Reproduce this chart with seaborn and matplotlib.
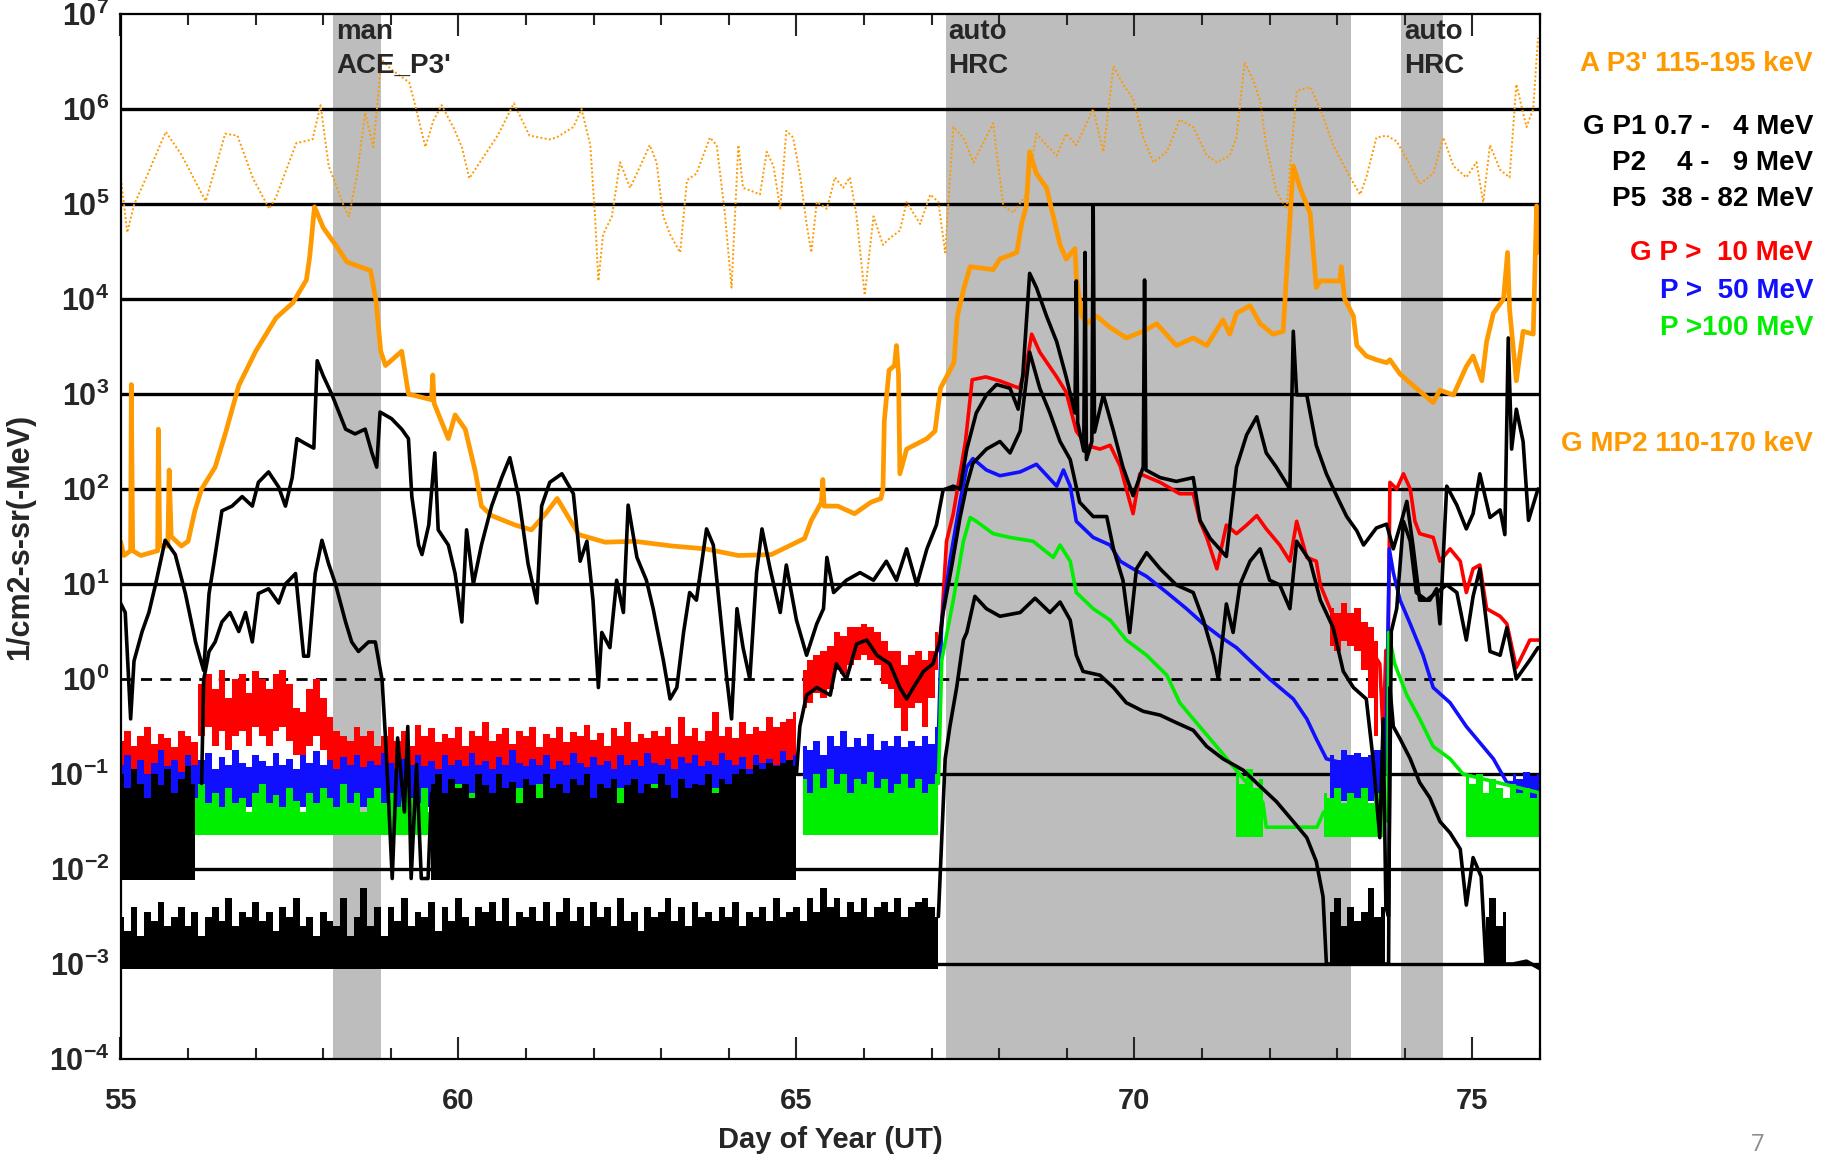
import numpy as np
import matplotlib
matplotlib.use("Agg")
import matplotlib.pyplot as plt
import matplotlib.transforms as mtransforms
from matplotlib import font_manager as fm
from matplotlib.ticker import FixedLocator, FuncFormatter, MultipleLocator
import seaborn as sns

# ---------------- data (values are log10 of flux) ----------------
# shaded intervals (day of year) and their labels
shade_start = [58.15, 67.21, 73.95]
shade_end = [58.85, 73.21, 74.57]
shade_label = ["man\nACE_P3'", "auto\nHRC", "auto\nHRC"]

# ACE P3' 115-195 keV (dotted orange)
ace = [(55.0,5.31),(55.1,4.7),(55.2,4.99),(55.4,5.31),(55.67,5.76),(55.9,5.52),(56.26,5.03),(56.55,5.74),
       (56.73,5.72),(56.96,5.27),(57.2,4.95),(57.3,5.07),(57.6,5.64),(57.84,5.68),(57.96,6.04),(58.08,5.4),
       (58.32,4.95),(58.38,4.87),(58.5,5.31),(58.62,5.96),(58.74,5.6),(58.86,6.52),(59.0,6.42),(59.27,6.28),
       (59.36,6.04),(59.51,5.6),(59.63,5.88),(59.75,6.04),(59.93,5.8),(60.05,5.6),(60.16,5.27),(60.28,5.4),
       (60.58,5.72),(60.82,6.06),(61.05,5.72),(61.35,5.68),(61.45,5.7),(61.7,5.81),(61.82,6.0),(61.95,5.62),
       (62.02,4.87),(62.07,4.19),(62.14,4.68),(62.27,4.87),(62.39,5.44),(62.54,5.17),(62.69,5.4),(62.83,5.62),
       (62.93,5.44),(63.03,4.87),(63.13,4.68),(63.28,4.49),(63.38,5.25),(63.52,5.32),(63.72,5.7),(63.82,5.62),
       (63.94,4.91),(64.04,4.12),(64.14,5.62),(64.21,5.17),(64.36,5.13),(64.46,5.1),(64.56,5.55),(64.66,5.4),
       (64.76,4.95),(64.85,5.77),(64.95,5.7),(65.05,5.32),(65.15,4.79),(65.22,4.49),(65.3,5.02),(65.45,4.95),
       (65.57,5.28),(65.69,5.17),(65.79,5.28),(65.89,4.87),(66.01,4.04),(66.14,4.87),(66.28,4.57),(66.38,4.64),
       (66.53,4.72),(66.63,5.02),(66.83,4.79),(66.98,5.1),(67.1,5.02),(67.2,4.49),(67.32,5.81),(67.47,5.7),
       (67.62,5.44),(67.91,5.85),(68.06,4.98),(68.21,4.91),(68.4,5.1),(68.55,5.74),(68.7,5.62),(68.85,5.51),
       (68.99,5.74),(69.14,5.62),(69.39,6.0),(69.54,5.55),(69.69,6.45),(69.83,6.26),(69.98,6.11),(70.13,5.7),
       (70.28,5.44),(70.48,5.55),(70.67,5.89),(70.87,5.81),(71.07,5.51),(71.22,5.44),(71.41,5.51),(71.51,5.7),
       (71.63,6.49),(71.76,6.3),(71.86,6.08),(71.95,5.62),(72.1,5.13),(72.25,4.95),(72.4,6.19),(72.6,6.23),
       (72.75,6.0),(72.94,5.62),(73.19,5.28),(73.34,5.1),(73.43,5.28),(73.58,5.7),(73.73,5.72),(73.88,5.66),
       (74.03,5.47),(74.22,5.21),(74.42,5.32),(74.57,5.7),(74.72,5.4),(74.91,5.28),(75.06,5.44),(75.16,5.02),
       (75.26,5.62),(75.41,5.36),(75.55,5.28),(75.65,6.26),(75.8,5.81),(75.9,6.0),(75.97,6.75)]

# GOES MP2 110-170 keV (solid orange)
mp2 = [(55.0,1.45),(55.05,1.3),(55.15,1.35),(55.16,3.1),(55.18,1.35),(55.3,1.3),(55.4,1.32),(55.55,1.35),
       (55.56,2.63),(55.58,1.4),(55.7,1.4),(55.72,2.2),(55.75,1.5),(55.9,1.4),(56.0,1.45),(56.1,1.77),
       (56.2,2.0),(56.4,2.23),(56.55,2.58),(56.75,3.09),(57.0,3.45),(57.3,3.8),(57.55,3.96),(57.75,4.2),
       (57.8,4.45),(57.87,4.97),(58.0,4.75),(58.2,4.55),(58.35,4.39),(58.5,4.35),(58.7,4.3),(58.78,3.98),
       (58.85,3.45),(58.92,3.3),(59.16,3.45),(59.26,3.0),(59.6,2.94),(59.62,3.2),(59.64,2.9),(59.85,2.53),
       (59.95,2.78),(60.1,2.63),(60.25,2.18),(60.34,1.82),(60.49,1.72),(60.84,1.62),(61.08,1.57),(61.3,1.75),
       (61.46,1.9),(61.78,1.52),(62.17,1.44),(62.6,1.45),(63.16,1.4),(63.65,1.37),(64.14,1.3),(64.63,1.31),
       (65.12,1.48),(65.22,1.67),(65.37,1.86),(65.39,2.1),(65.41,1.82),(65.61,1.82),(65.86,1.74),(66.1,1.86),
       (66.25,1.9),(66.28,2.0),(66.3,2.72),(66.37,3.25),(66.45,3.3),(66.48,3.51),(66.51,3.2),(66.53,2.16),
       (66.63,2.42),(66.93,2.53),(67.05,2.61),(67.13,3.06),(67.33,3.33),(67.38,3.82),(67.48,4.12),(67.57,4.34),
       (67.91,4.31),(68.01,4.42),(68.26,4.49),(68.33,4.79),(68.4,4.98),(68.45,5.55),(68.55,5.32),(68.7,5.17),
       (68.8,4.87),(68.9,4.57),(68.99,4.42),(69.12,4.53),(69.14,4.23),(69.22,3.82),(69.29,3.74),(69.44,3.82),
       (69.64,3.7),(69.88,3.59),(70.13,3.66),(70.33,3.74),(70.62,3.51),(70.87,3.59),(71.07,3.51),(71.31,3.78),
       (71.41,3.63),(71.51,3.85),(71.71,3.93),(71.86,3.74),(72.05,3.63),(72.2,3.66),(72.27,4.49),(72.35,5.4),
       (72.45,5.17),(72.6,4.9),(72.69,4.12),(72.75,4.19),(73.04,4.19),(73.06,4.34),(73.11,4.0),(73.24,3.82),
       (73.29,3.51),(73.43,3.4),(73.58,3.36),(73.73,3.33),(73.78,3.36),(73.93,3.21),(74.17,3.06),(74.42,2.91),
       (74.52,3.04),(74.72,2.99),(74.91,3.29),(75.01,3.4),(75.14,3.14),(75.21,3.55),(75.31,3.85),(75.46,4.0),
       (75.52,4.49),(75.55,3.89),(75.65,3.14),(75.75,3.66),(75.9,3.63),(75.95,4.98),(75.97,4.49),(76.0,4.5)]

# GOES P1 0.7-4 MeV (upper black)
p1 = [(55.0,0.8),(55.07,0.7),(55.15,-0.42),(55.2,0.19),(55.32,0.5),(55.42,0.7),(55.52,1.0),(55.66,1.46),
      (55.81,1.31),(55.96,0.9),(56.11,0.39),(56.23,0.09),(56.31,0.9),(56.38,1.21),(56.5,1.77),(56.65,1.82),
      (56.8,1.92),(56.95,1.82),(57.04,2.07),(57.19,2.18),(57.34,2.02),(57.44,1.82),(57.54,2.12),(57.61,2.53),
      (57.73,2.48),(57.86,2.43),(57.91,3.35),(58.0,3.19),(58.13,2.99),(58.33,2.63),(58.47,2.58),(58.62,2.63),
      (58.72,2.38),(58.79,2.23),(58.84,2.81),(59.01,2.74),(59.16,2.63),(59.26,2.53),(59.31,1.92),(59.41,1.41),
      (59.46,1.31),(59.56,1.62),(59.65,2.38),(59.7,1.57),(59.85,1.41),(59.95,1.11),(60.05,0.6),(60.12,1.57),
      (60.22,1.0),(60.34,1.41),(60.49,1.82),(60.64,2.12),(60.76,2.33),(60.89,1.92),(61.03,1.21),(61.16,0.8),
      (61.23,1.82),(61.35,2.07),(61.53,2.16),(61.7,1.95),(61.8,1.24),(61.9,1.45),(61.99,0.83),(62.07,-0.09),
      (62.12,0.49),(62.24,0.33),(62.34,1.04),(62.44,0.7),(62.51,1.83),(62.64,1.28),(62.78,1.04),(62.88,0.74),
      (63.03,0.2),(63.13,-0.21),(63.23,-0.09),(63.33,0.49),(63.42,0.91),(63.52,0.83),(63.67,1.58),(63.77,1.41),
      (63.87,0.7),(63.97,0.0),(64.04,-0.42),(64.12,0.74),(64.21,0.33),(64.31,0.0),(64.41,1.12),(64.49,1.58),
      (64.61,1.16),(64.76,0.7),(64.85,1.2),(65.0,0.62),(65.15,0.25),(65.3,0.58),(65.4,0.74),(65.45,1.28),
      (65.55,0.91),(65.74,1.04),(65.94,1.12),(66.14,1.04),(66.33,1.24),(66.48,1.04),(66.63,1.37),(66.78,0.99),
      (66.93,1.37),(67.07,1.62),(67.17,1.99),(67.32,2.03),(67.42,2.0),(67.52,2.42),(67.66,2.8),(67.81,2.99),
      (67.96,3.1),(68.16,3.06),(68.28,2.84),(68.35,3.21),(68.45,4.27),(68.55,4.12),(68.7,3.82),(68.85,3.55),
      (68.99,3.18),(69.12,2.8),(69.14,4.19),(69.16,2.7),(69.25,2.4),(69.27,4.49),(69.29,2.31),(69.37,2.5),
      (69.39,4.98),(69.41,2.6),(69.54,2.99),(69.69,2.61),(69.83,2.23),(69.98,1.93),(70.13,2.23),(70.15,4.2),
      (70.17,2.2),(70.38,2.12),(70.62,2.08),(70.87,2.12),(70.97,1.67),(71.12,1.48),(71.36,1.29),(71.51,2.23),
      (71.66,2.57),(71.81,2.76),(71.95,2.38),(72.1,2.23),(72.3,2.0),(72.35,3.66),(72.4,2.99),(72.55,2.99),
      (72.69,2.46),(72.84,2.16),(72.99,1.93),(73.14,1.71),(73.29,1.56),(73.39,1.41),(73.58,1.59),(73.73,1.63),
      (73.83,1.37),(73.95,1.66),(74.03,1.87),(74.12,1.41),(74.22,0.83),(74.37,0.83),(74.47,0.95),(74.52,0.58),
      (74.62,2.03),(74.77,1.83),(74.91,1.58),(75.01,1.74),(75.11,2.16),(75.26,1.7),(75.41,1.78),(75.48,1.52),
      (75.53,3.59),(75.58,2.42),(75.65,2.84),(75.75,2.5),(75.83,1.67),(75.97,2.0)]

# GOES P2 4-9 MeV (middle black): two line segments + quiet-time noise blocks
p2_a = [(56.2,-1.1),(56.23,-0.01),(56.31,0.29),(56.4,0.39),(56.5,0.6),(56.62,0.7),(56.75,0.5),(56.85,0.7),
        (56.95,0.39),(57.04,0.9),(57.19,0.95),(57.34,0.8),(57.44,1.0),(57.59,1.11),(57.71,0.24),(57.78,0.24),
        (57.88,1.11),(57.98,1.46),(58.08,1.21),(58.18,1.0),(58.33,0.6),(58.42,0.39),(58.52,0.29),(58.67,0.39),
        (58.77,0.39),(58.87,-0.01),(58.92,-0.62),(58.97,-1.34),(59.02,-2.1),(59.1,-0.62),(59.2,-1.4),
        (59.25,-0.5),(59.3,-2.1),(59.38,-0.9),(59.45,-2.1),(59.55,-2.1),(59.6,-1.2)]
p2_b = [(65.0,-1.0),(65.05,-0.5),(65.15,-0.17),(65.3,-0.09),(65.5,-0.17),(65.59,0.16),(65.74,0.0),(65.89,0.37),
        (66.04,0.41),(66.19,0.25),(66.38,0.16),(66.53,-0.09),(66.63,-0.21),(66.73,-0.09),(66.88,0.08),
        (67.02,0.16),(67.12,0.4),(67.17,0.7),(67.3,1.2),(67.42,1.7),(67.52,2.04),(67.61,2.27),(67.81,2.42),
        (68.01,2.5),(68.16,2.38),(68.31,2.61),(68.45,3.44),(68.6,3.06),(68.75,2.8),(68.9,2.5),(69.05,2.31),
        (69.19,1.86),(69.39,1.71),(69.59,1.71),(69.69,1.37),(69.83,1.04),(69.93,0.49),(70.03,1.16),(70.18,1.33),
        (70.38,1.16),(70.62,0.99),(70.87,0.91),(71.02,0.62),(71.17,0.25),(71.24,0.0),(71.36,0.79),(71.46,0.49),
        (71.56,0.99),(71.71,1.24),(71.86,1.37),(72.0,1.04),(72.15,0.99),(72.3,0.74),(72.4,1.45),(72.6,1.24),
        (72.75,0.83),(72.94,0.54),(73.09,0.08),(73.24,-0.09),(73.43,-0.21),(73.53,-0.84),(73.63,-1.67),
        (73.68,-0.42),(73.72,-2.4),(73.76,-2.5),(73.8,0.5),(73.88,0.74),(73.98,1.66),(74.08,1.45),(74.17,0.91),
        (74.32,0.83),(74.47,0.91),(74.62,0.99),(74.77,0.91),(74.91,0.41),(75.01,0.87),(75.11,1.16),(75.26,0.29),
        (75.41,0.25),(75.51,0.54),(75.65,0.0),(75.85,0.2),(75.97,0.33)]

# GOES P5 38-82 MeV (lowest black) event part
p5 = [(67.1,-2.5),(67.15,-1.67),(67.2,-0.84),(67.27,-0.5),(67.37,-0.09),(67.47,0.41),(67.52,0.49),(67.64,0.87),
      (67.81,0.74),(68.01,0.66),(68.31,0.7),(68.53,0.85),(68.75,0.7),(68.9,0.81),(69.05,0.62),(69.14,0.25),
      (69.24,0.08),(69.49,0.04),(69.69,-0.09),(69.88,-0.25),(70.13,-0.34),(70.38,-0.38),(70.62,-0.46),
      (70.87,-0.54),(71.07,-0.71),(71.31,-0.84),(71.61,-0.96),(71.86,-1.13),(72.1,-1.29),(72.35,-1.5),
      (72.55,-1.67),(72.69,-1.92),(72.79,-2.29),(72.84,-3.0),(73.76,-3.0),(73.78,-0.09),(73.83,-0.5),
      (73.93,-0.63),(74.08,-0.84),(74.22,-1.09),(74.37,-1.25),(74.52,-1.5),(74.67,-1.62),(74.82,-1.79),
      (74.91,-2.38),(75.01,-1.88),(75.13,-2.08),(75.2,-3.0),(75.6,-3.0),(75.8,-2.97),(76.0,-3.05)]

# GOES P > 10 MeV (red), P > 50 MeV (blue), P > 100 MeV (green) event parts
red = [(67.1,0.3),(67.15,0.62),(67.22,1.45),(67.32,1.74),(67.42,2.16),(67.5,2.5),(67.6,3.15),(67.8,3.18),
       (68.0,3.14),(68.15,3.1),(68.3,3.06),(68.4,3.3),(68.48,3.63),(68.6,3.44),(68.85,3.18),(68.99,3.02),
       (69.14,2.61),(69.29,2.46),(69.49,2.42),(69.64,2.46),(69.79,2.24),(69.88,2.0),(69.98,1.74),(70.08,2.16),
       (70.38,2.07),(70.67,1.95),(70.87,1.95),(70.97,1.66),(71.07,1.49),(71.22,1.16),(71.36,1.62),(71.51,1.53),
       (71.66,1.62),(71.81,1.72),(71.95,1.58),(72.15,1.41),(72.3,1.24),(72.4,1.66),(72.55,1.28),(72.69,1.24),
       (72.75,0.99),(72.94,0.66),(73.09,0.49),(73.2,0.55),(73.34,0.58),(73.48,0.33),(73.63,0.16),(73.68,-0.59),
       (73.72,0.3),(73.75,0.0),(73.78,2.07),(73.88,2.0),(73.98,2.16),(74.08,2.0),(74.15,1.66),(74.22,1.53),
       (74.42,1.49),(74.52,1.24),(74.67,1.37),(74.82,1.24),(74.91,0.91),(75.01,1.16),(75.11,1.2),(75.21,0.74),
       (75.41,0.66),(75.51,0.58),(75.65,0.12),(75.85,0.41),(76.0,0.41)]
blue = [(67.1,-0.6),(67.15,0.62),(67.27,1.24),(67.42,1.87),(67.52,2.23),(67.61,2.32),(67.81,2.2),(68.01,2.14),
        (68.31,2.18),(68.55,2.26),(68.85,2.03),(68.95,2.2),(69.05,2.03),(69.14,1.66),(69.39,1.49),(69.64,1.41),
        (69.79,1.24),(69.98,1.16),(70.18,1.08),(70.48,0.91),(70.77,0.74),(71.02,0.58),(71.26,0.45),(71.51,0.33),
        (71.76,0.16),(72.0,0.0),(72.2,-0.12),(72.35,-0.21),(72.55,-0.42),(72.69,-0.63),(72.84,-0.84),
        (73.7,-1.0),(73.72,-0.9),(73.77,1.37),(73.83,1.12),(73.93,0.83),(74.08,0.58),(74.27,0.25),(74.42,-0.09),
        (74.67,-0.25),(74.91,-0.5),(75.11,-0.67),(75.31,-0.84),(75.51,-1.09),(76.0,-1.1)]
green = [(67.1,-1.1),(67.15,0.2),(67.32,0.83),(67.47,1.45),(67.57,1.7),(67.66,1.66),(67.91,1.53),(68.16,1.49),
         (68.5,1.45),(68.8,1.28),(68.9,1.41),(69.05,1.24),(69.14,0.91),(69.39,0.74),(69.64,0.62),(69.88,0.41),
         (70.18,0.25),(70.48,0.04),(70.67,-0.25),(70.87,-0.42),(71.12,-0.63),(71.31,-0.79),(71.46,-0.92),
         (71.9,-1.3),(71.95,-1.56),(72.7,-1.56),(72.8,-1.4),(73.7,-1.4),(73.75,-1.5),(73.76,0.49),(73.85,0.16),
         (74.03,-0.17),(74.22,-0.42),(74.42,-0.71),(74.67,-0.84),(74.86,-1.0),(76.0,-1.2)]

# quiet-time noise envelopes on a 0.1-day grid, 55.0 ... 65.0 (101 samples)
red_q_hi = [-0.65,-0.55,-0.7,-0.6,-0.5,-0.68,-0.58,-0.62,-0.72,-0.55,-0.6,-0.66,
            -0.05,0.05,-0.1,0.1,-0.2,0.0,0.05,-0.15,0.08,0.0,-0.1,0.05,0.1,-0.05,-0.3,-0.35,-0.1,0.0,
            -0.2,-0.4,-0.55,-0.6,-0.65,-0.5,-0.6,-0.55,-0.7,
            -0.6,-0.5,-0.65,-0.55,-0.7,-0.48,-0.6,-0.52,-0.66,-0.58,
            -0.62,-0.5,-0.7,-0.55,-0.6,-0.45,-0.65,-0.58,-0.52,-0.68,
            -0.55,-0.6,-0.5,-0.72,-0.58,-0.62,-0.5,-0.66,-0.56,-0.6,
            -0.48,-0.64,-0.57,-0.7,-0.52,-0.6,-0.45,-0.66,-0.58,-0.62,
            -0.55,-0.6,-0.5,-0.68,-0.4,-0.6,-0.52,-0.65,-0.55,-0.35,
            -0.6,-0.5,-0.62,-0.45,-0.58,-0.5,-0.55,-0.4,-0.5,-0.45,-0.42,-0.35]
red_q_lo = ([-1.0] * 12 +
            [-0.6,-0.5,-0.7,-0.55,-0.75,-0.6,-0.55,-0.7,-0.5,-0.6,-0.7,-0.55,-0.5,-0.65,-0.8,-0.85,-0.7,
             -0.6,-0.75,-0.85,-0.95,-0.95,-1.0,-0.95,-0.95,-0.95,-1.0] +
            [-1.0] * 62)
blue_q_hi = [-0.9,-0.8,-0.95,-0.85,-1.0,-0.88,-0.75,-0.92,-0.85,-0.98,
             -0.8,-0.9,-0.85,-0.78,-0.95,-0.82,-0.9,-0.75,-0.88,-0.93,
             -0.8,-0.86,-0.92,-0.78,-0.9,-0.84,-0.95,-0.8,-0.88,-0.76,
             -0.9,-0.85,-0.95,-0.82,-0.9,-0.8,-0.93,-0.86,-0.9,-0.78,
             -0.88,-0.95,-0.84,-0.9,-0.8,-0.92,-0.86,-0.95,-0.8,-0.9,
             -0.85,-0.92,-0.78,-0.9,-0.86,-0.95,-0.82,-0.9,-0.75,-0.88,
             -0.92,-0.84,-0.9,-0.8,-0.95,-0.86,-0.9,-0.78,-0.88,-0.93,
             -0.82,-0.9,-0.86,-0.95,-0.8,-0.9,-0.85,-0.92,-0.78,-0.88,
             -0.9,-0.84,-0.95,-0.82,-0.88,-0.8,-0.92,-0.86,-0.9,-0.78,
             -0.85,-0.9,-0.82,-0.95,-0.8,-0.88,-0.84,-0.9,-0.76,-0.86,-0.8]
blue_q_lo = -1.35
green_q_hi = [-1.15,-1.3,-1.1,-1.25,-1.4,-1.2,-1.35,-1.15,-1.3,-1.2,
              -1.4,-1.25,-1.1,-1.3,-1.2,-1.35,-1.15,-1.3,-1.25,-1.4,
              -1.2,-1.1,-1.3,-1.22,-1.35,-1.15,-1.28,-1.4,-1.2,-1.3,
              -1.15,-1.25,-1.35,-1.1,-1.3,-1.2,-1.4,-1.25,-1.15,-1.3,
              -1.2,-1.35,-1.1,-1.25,-1.3,-1.15,-1.4,-1.2,-1.3,-1.25,
              -1.1,-1.3,-1.2,-1.35,-1.15,-1.28,-1.4,-1.2,-1.3,-1.15,
              -1.25,-1.35,-1.1,-1.3,-1.2,-1.4,-1.25,-1.15,-1.3,-1.2,
              -1.35,-1.1,-1.25,-1.3,-1.15,-1.4,-1.2,-1.3,-1.25,-1.1,
              -1.3,-1.2,-1.35,-1.15,-1.28,-1.4,-1.2,-1.3,-1.15,-1.25,
              -1.35,-1.1,-1.3,-1.2,-1.4,-1.25,-1.15,-1.3,-1.2,-1.1,-1.05]
green_q_lo = -1.64
# P2 quiet blocks: 55.0-56.1 and 59.6-65.0
p2_blk1_hi = [-1.0,-1.15,-0.95,-1.1,-1.25,-1.0,-1.12,-0.95,-1.2,-1.05,-0.92,-1.1]
p2_blk2_hi = [-1.1,-1.0,-1.2,-1.05,-1.15,-1.1,-1.25,-1.0,-1.12,-1.2,
              -1.0,-1.15,-1.08,-1.3,-1.05,-1.12,-1.25,-1.0,-1.15,-1.1,
              -1.2,-1.05,-1.12,-1.0,-1.25,-1.1,-1.15,-1.05,-1.3,-1.12,
              -1.05,-1.2,-1.1,-1.15,-1.0,-1.12,-1.25,-1.05,-1.15,-1.1,
              -1.12,-1.0,-1.2,-1.05,-1.1,-1.0,-0.95,-1.0,-0.9,-0.95,
              -0.88,-0.92,-0.88,-0.85,-0.92]
p2_blk_lo = -2.12
# P5 quiet block 55.0-67.1 (122 samples)
p5_blk_hi = [-2.5,-2.65,-2.4,-2.7,-2.45,-2.55,-2.35,-2.6,-2.5,-2.4,
             -2.6,-2.45,-2.7,-2.5,-2.4,-2.55,-2.3,-2.6,-2.45,-2.5,
             -2.35,-2.55,-2.45,-2.65,-2.4,-2.5,-2.3,-2.6,-2.5,-2.7,
             -2.45,-2.55,-2.6,-2.3,-2.7,-2.5,-2.2,-2.6,-2.4,-2.7,
             -2.4,-2.55,-2.3,-2.6,-2.45,-2.5,-2.35,-2.65,-2.4,-2.55,
             -2.3,-2.5,-2.6,-2.4,-2.45,-2.35,-2.55,-2.3,-2.6,-2.45,
             -2.5,-2.4,-2.55,-2.35,-2.6,-2.45,-2.3,-2.55,-2.4,-2.6,
             -2.35,-2.5,-2.4,-2.6,-2.3,-2.55,-2.45,-2.65,-2.4,-2.5,
             -2.45,-2.3,-2.55,-2.4,-2.6,-2.35,-2.5,-2.45,-2.55,-2.4,
             -2.5,-2.35,-2.6,-2.45,-2.5,-2.4,-2.55,-2.3,-2.5,-2.45,
             -2.4,-2.55,-2.3,-2.45,-2.2,-2.4,-2.3,-2.5,-2.35,-2.45,
             -2.3,-2.5,-2.4,-2.35,-2.45,-2.3,-2.5,-2.4,-2.35,-2.3,
             -2.4,-2.5]
p5_blk_lo = -3.05
# onset-period envelopes, 65.1 ... 67.1 (21 samples)
red_e_hi = [0.1,0.2,0.25,0.3,0.35,0.5,0.45,0.55,0.55,0.58,0.55,0.5,0.4,0.3,0.3,0.15,0.25,0.3,0.2,0.3,0.5]
red_e_lo = [-0.3,-0.25,-0.15,-0.2,-0.1,0.1,0.05,0.15,0.2,0.25,0.2,0.15,-0.05,-0.1,-0.3,-0.55,-0.3,-0.25,-0.5,-0.2,0.1]
blue_e_hi = [-0.7,-0.75,-0.65,-0.8,-0.6,-0.7,-0.55,-0.72,-0.62,-0.7,-0.58,-0.75,-0.65,-0.7,-0.6,-0.72,-0.65,-0.7,-0.6,-0.68,-0.5]
green_e_hi = [-1.05,-1.2,-1.0,-1.15,-0.95,-1.1,-1.0,-1.2,-1.05,-1.1,-0.98,-1.15,-1.05,-1.2,-1.1,-1.0,-1.15,-1.05,-1.2,-1.1,-1.0]
# late-event noise envelopes
red_l_day = [72.9,73.0,73.1,73.2,73.3,73.4,73.5,73.6]
red_l_hi = [0.75,0.7,0.8,0.7,0.75,0.6,0.55,0.4]
red_l_lo = [0.35,0.3,0.4,0.35,0.3,0.1,-0.2,-0.6]
blue_l1_day = [72.9,73.0,73.1,73.2,73.3,73.4,73.5,73.6,73.7]
blue_l1_hi = [-0.8,-0.85,-0.75,-0.8,-0.78,-0.82,-0.8,-0.75,-0.85]
blue_l2_day = [75.6,75.7,75.8,75.9,76.0]
blue_l2_hi = [-1.0,-1.05,-0.98,-1.02,-1.0]
blue_l_lo = -1.28
green_l1_day = [71.5,71.6,71.7,71.8,71.9]
green_l1_hi = [-1.0,-1.1,-0.95,-1.15,-1.05]
green_l2_day = [72.8,72.9,73.0,73.1,73.2,73.3,73.4,73.5,73.6,73.7]
green_l2_hi = [-1.2,-1.25,-1.15,-1.3,-1.2,-1.25,-1.15,-1.3,-1.2,-1.25]
green_l3_day = [74.9,75.0,75.1,75.2,75.3,75.4,75.5,75.6,75.7,75.8,75.9,76.0]
green_l3_hi = [-1.0,-1.1,-1.0,-1.2,-1.05,-1.15,-1.25,-1.1,-1.2,-1.15,-1.25,-1.2]
green_l_lo = -1.66
p5_l1_day = [72.9,73.0,73.1,73.2,73.3,73.4,73.5,73.6,73.7]
p5_l1_hi = [-2.45,-2.3,-2.6,-2.4,-2.55,-2.45,-2.2,-2.5,-2.4]
p5_l2_day = [75.2,75.3,75.4,75.5]
p5_l2_hi = [-2.5,-2.3,-2.6,-2.45]
p5_l_lo = -3.02

grid_decades = [6, 5, 4, 3, 2, 1, 0, -1, -2, -3]

legend_text = ["A P3' 115-195 keV", "G P1 0.7 -   4 MeV", "P2    4 -   9 MeV", "P5  38 - 82 MeV",
               "G P >  10 MeV", "P >  50 MeV", "P >100 MeV", "G MP2 110-170 keV"]
legend_y_px = [64, 127, 163, 199, 253, 291, 328, 444]

# ---------------- style ----------------
ORANGE = "#ff9900"
RED = "#ff0000"
BLUE = "#1010ff"
GREEN = "#00ee00"
BLACK = "#000000"
GRAY = "#bdbdbd"

sns.set_style("white")
avail = {f.name for f in fm.fontManager.ttflist}
NARROW = "Liberation Sans Narrow" if "Liberation Sans Narrow" in avail else "Liberation Sans"
plt.rcParams["font.family"] = [NARROW, "DejaVu Sans"]
plt.rcParams["mathtext.fontset"] = "custom"
plt.rcParams["mathtext.rm"] = NARROW + ":bold"
plt.rcParams["mathtext.bf"] = NARROW + ":bold"

W, H = 1835, 1175
fig = plt.figure(figsize=(W / 100, H / 100), dpi=100)
ax = fig.add_axes([120.5 / W, 1 - 1059 / H, (1540 - 120.5) / W, (1059 - 14) / H])
ax.set_yscale("log")
ax.set_xlim(55, 76)
ax.set_ylim(1e-4, 1e7)


def pw(v):
    return 10.0 ** np.asarray(v, dtype=float)


def line(pairs, color, lw, z, **kw):
    d = np.array(pairs, dtype=float)
    sns.lineplot(x=d[:, 0], y=pw(d[:, 1]), color=color, lw=lw, zorder=z, estimator=None,
                 sort=False, ax=ax, legend=False, **kw)


def band(days, lo, hi, color, z):
    days = np.asarray(days, dtype=float)
    lo = np.broadcast_to(np.asarray(lo, dtype=float), days.shape)
    ax.fill_between(days, pw(lo), pw(hi), step="mid", color=color, lw=0, zorder=z)


q_day = np.round(np.linspace(55.0, 65.0, 101), 2)
e_day = np.round(np.linspace(65.1, 67.1, 21), 2)
p5_day = np.round(np.linspace(55.0, 67.1, 122), 2)

# shading and grid lines
for s, e in zip(shade_start, shade_end):
    ax.axvspan(s, e, color=GRAY, lw=0, zorder=0)
for k in grid_decades:
    if k == 0:
        ax.axhline(10.0 ** k, color=BLACK, lw=2.0, ls=(0, (4, 3)), zorder=1)
    else:
        ax.axhline(10.0 ** k, color=BLACK, lw=2.4, zorder=1)

# ACE dotted series
line(ace, ORANGE, 1.4, 2, linestyle=(0, (1, 1.2)))
# GOES MP2
line(mp2, ORANGE, 3.4, 3)

# red
band(q_day, red_q_lo, red_q_hi, RED, 4)
band(e_day, red_e_lo, red_e_hi, RED, 4)
band(red_l_day, red_l_lo, red_l_hi, RED, 4)
line(red, RED, 2.6, 4)
# blue
band(q_day, blue_q_lo, blue_q_hi, BLUE, 5)
band(e_day, -1.25, blue_e_hi, BLUE, 5)
band(blue_l1_day, blue_l_lo, blue_l1_hi, BLUE, 5)
band(blue_l2_day, blue_l_lo, blue_l2_hi, BLUE, 5)
line(blue, BLUE, 2.6, 5)
# green
band(q_day, green_q_lo, green_q_hi, GREEN, 6)
band(e_day, green_q_lo, green_e_hi, GREEN, 6)
band(green_l1_day, green_l_lo, green_l1_hi, GREEN, 6)
band(green_l2_day, green_l_lo, green_l2_hi, GREEN, 6)
band(green_l3_day, green_l_lo, green_l3_hi, GREEN, 6)
line(green, GREEN, 2.6, 6)
# black
band(q_day[:12], p2_blk_lo, p2_blk1_hi, BLACK, 7)
band(q_day[46:], p2_blk_lo, p2_blk2_hi, BLACK, 7)
band(p5_day, p5_blk_lo, p5_blk_hi, BLACK, 7)
band(p5_l1_day, p5_l_lo, p5_l1_hi, BLACK, 7)
band(p5_l2_day, p5_l_lo, p5_l2_hi, BLACK, 7)
line(p2_a, BLACK, 2.6, 7)
line(p2_b, BLACK, 2.6, 7)
line(p5, BLACK, 2.6, 7)
line(p1, BLACK, 2.6, 8)

# axes cosmetics
for sp in ax.spines.values():
    sp.set_visible(True)
    sp.set_color(BLACK)
    sp.set_linewidth(1.6)
    sp.set_zorder(10)
ax.set_yticks([10.0 ** k for k in range(-4, 8)])
ax.yaxis.set_minor_locator(FixedLocator([]))
ax.yaxis.set_major_formatter(FuncFormatter(lambda v, p: r"$\mathbf{10^{%d}}$" % int(round(np.log10(v)))))
ax.tick_params(axis="y", which="both", length=0, pad=8, labelsize=22)
ax.xaxis.set_major_locator(FixedLocator([55, 60, 65, 70, 75]))
ax.xaxis.set_minor_locator(MultipleLocator(1))
ax.tick_params(axis="x", which="major", direction="in", top=True, bottom=True, length=16, width=1.5,
               labelsize=21, pad=20)
ax.tick_params(axis="x", which="minor", direction="in", top=True, bottom=True, length=8, width=1.5)
for lab in ax.get_xticklabels():
    lab.set_fontweight("bold")
ax.set_xlabel("Day of Year (UT)", fontsize=21, fontweight="bold", labelpad=8)
ax.set_ylabel("1/cm2-s-sr(-MeV)", fontsize=22, fontweight="bold", family=["Liberation Sans", "DejaVu Sans"],
              labelpad=10)
ax.grid(False)

trans = mtransforms.blended_transform_factory(ax.transData, ax.transAxes)
for s, lab in zip(shade_start, shade_label):
    ax.text(s + 0.04, 0.995, lab, transform=trans, ha="left", va="top", fontsize=20, fontweight="bold",
            linespacing=1.4, zorder=11)

legend_colors = [ORANGE, BLACK, BLACK, BLACK, RED, BLUE, GREEN, ORANGE]
for txt, ypx, c in zip(legend_text, legend_y_px, legend_colors):
    fig.text(1813 / W, 1 - ypx / H, txt, ha="right", va="center", color=c, fontsize=20, fontweight="bold")

fig.text(1758 / W, 1 - 1145 / H, "7", ha="center", va="center", color="#8c8c8c", fontsize=17,
         family=["Open Sans", "DejaVu Sans"])

fig.savefig("out.png", dpi=100, facecolor="white")
